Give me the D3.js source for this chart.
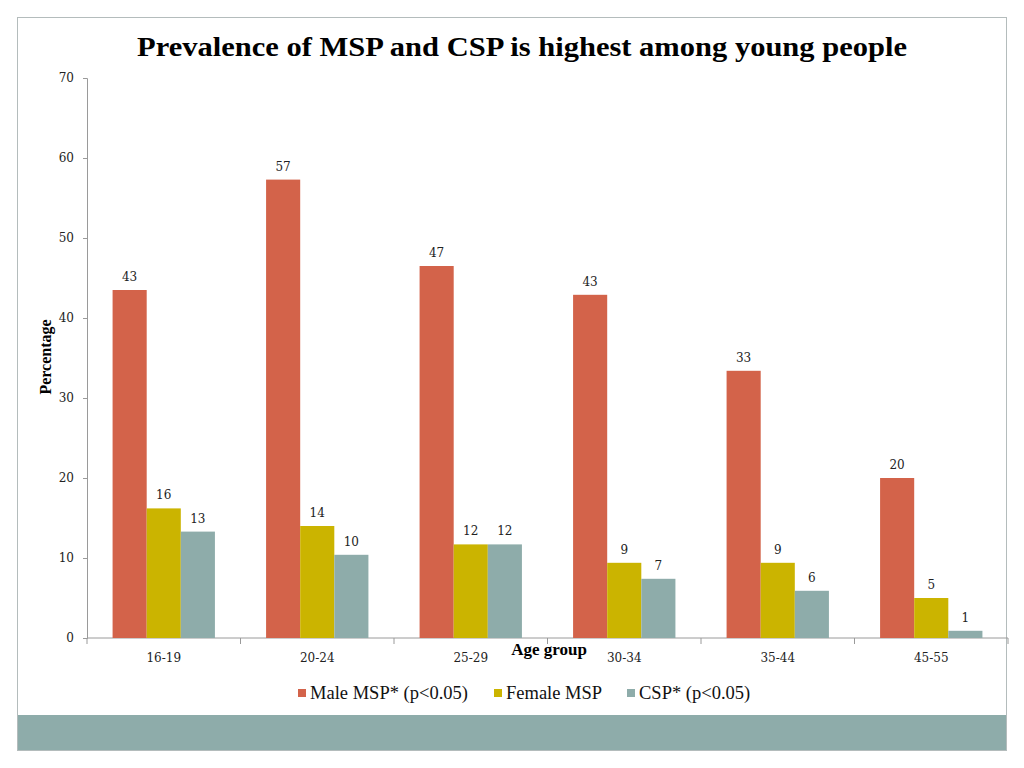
<!DOCTYPE html>
<html>
<head>
<meta charset="utf-8">
<title>Prevalence of MSP and CSP</title>
<script src="https://d3js.org/d3.v7.min.js"></script>
<style>
  body { margin: 0; background: #fff; }
  text { font-family: "DejaVu Serif", serif; }
</style>
</head>
<body>
<svg width="1024" height="768"></svg>
<script>
// data
const ageGroups = ["16-19", "20-24", "25-29", "30-34", "35-44", "45-55"]
const seriesNames = ["Male MSP* (p<0.05)", "Female MSP", "CSP* (p<0.05)"]
const maleMSP = [43.5, 57.3, 46.5, 42.9, 33.4, 20.0]
const femaleMSP = [16.2, 14.0, 11.7, 9.4, 9.4, 5.0]
const csp = [13.3, 10.4, 11.7, 7.4, 5.9, 0.9]
const maleLabels = [43, 57, 47, 43, 33, 20]
const femaleLabels = [16, 14, 12, 9, 9, 5]
const cspLabels = [13, 10, 12, 7, 6, 1]
const yTicks = [0, 10, 20, 30, 40, 50, 60, 70]

const colors = ["#d3634a", "#cbb400", "#8eacaa"]
const svg = d3.select("svg")

// slide frame + bottom band
svg.append("rect").attr("x", 17.5).attr("y", 17.5).attr("width", 989).attr("height", 733)
    .attr("fill", "#fff").attr("stroke", "#b4bcbc")
svg.append("rect").attr("x", 18).attr("y", 715).attr("width", 988).attr("height", 35)
    .attr("fill", "#8eacaa")

svg.append("text")
    .attr("x", 522).attr("y", 56)
    .attr("text-anchor", "middle")
    .style("font-family", "'Liberation Serif', serif")
    .style("font-weight", "bold")
    .style("font-size", "27px")
    .attr("textLength", 770).attr("lengthAdjust", "spacingAndGlyphs")
    .text("Prevalence of MSP and CSP is highest among young people")

const margin = { left: 87, top: 78 }
const innerWidth = 921
const innerHeight = 560

const g = svg.append("g").attr("transform", `translate(${margin.left},${margin.top})`)

const x = d3.scaleBand().domain(ageGroups).range([0, innerWidth]).paddingInner(0).paddingOuter(0)
const xSub = d3.scaleBand().domain(d3.range(3)).range([0, x.bandwidth()]).paddingOuter(0.75).paddingInner(0)
const y = d3.scaleLinear().domain([0, 70]).range([innerHeight, 0])

const yAxis = d3.axisLeft(y).tickValues(yTicks).tickSize(4).tickPadding(9)
const yg = g.append("g").call(yAxis)
yg.select(".domain").attr("stroke", "#9a9a9a")
yg.selectAll(".tick line").attr("stroke", "#9a9a9a")
yg.selectAll("text").style("font-size", "12px").attr("fill", "#222")
    .style("font-family", "'DejaVu Serif', serif")

// x axis with ticks at band edges
const xg = g.append("g").attr("transform", `translate(0,${innerHeight})`)
xg.append("line").attr("x1", 0).attr("x2", innerWidth).attr("stroke", "#9a9a9a")
xg.selectAll("line.tk").data(d3.range(ageGroups.length + 1)).enter().append("line")
    .attr("class", "tk")
    .attr("x1", i => i * x.step()).attr("x2", i => i * x.step())
    .attr("y1", 0).attr("y2", 6).attr("stroke", "#9a9a9a")
xg.selectAll("text").data(ageGroups).enter().append("text")
    .attr("x", d => x(d) + x.bandwidth() / 2)
    .attr("y", 24)
    .attr("text-anchor", "middle")
    .style("font-size", "12px").attr("fill", "#222")
    .text(d => d)

const series = [maleMSP, femaleMSP, csp]
const labels = [maleLabels, femaleLabels, cspLabels]

series.forEach((vals, s) => {
    g.selectAll(".bar" + s).data(vals).enter().append("rect")
        .attr("x", (d, i) => x(ageGroups[i]) + xSub(s))
        .attr("y", d => y(d))
        .attr("width", xSub.bandwidth())
        .attr("height", d => innerHeight - y(d))
        .attr("fill", colors[s])
    g.selectAll(".lab" + s).data(vals).enter().append("text")
        .attr("x", (d, i) => x(ageGroups[i]) + xSub(s) + xSub.bandwidth() / 2)
        .attr("y", d => y(d) - 9)
        .attr("text-anchor", "middle")
        .style("font-size", "12px").attr("fill", "#222")
        .text((d, i) => labels[s][i])
})

// axis titles
svg.append("text")
    .attr("transform", "translate(51,357) rotate(-90)")
    .attr("text-anchor", "middle")
    .style("font-family", "'Liberation Serif', serif")
    .style("font-weight", "bold").style("font-size", "16px")
    .text("Percentage")
svg.append("text")
    .attr("x", 549).attr("y", 655)
    .attr("text-anchor", "middle")
    .style("font-family", "'Liberation Serif', serif")
    .style("font-weight", "bold").style("font-size", "17px")
    .text("Age group")

// legend
const legendX = [298, 494, 627]
const lg = svg.append("g")
seriesNames.forEach((name, i) => {
    lg.append("rect").attr("x", legendX[i]).attr("y", 689).attr("width", 8).attr("height", 8)
        .attr("fill", colors[i])
    lg.append("text").attr("x", legendX[i] + 12).attr("y", 699)
        .style("font-family", "'Liberation Serif', serif").style("font-size", "18.5px")
        .attr("fill", "#111")
        .text(name)
})
</script>
</body>
</html>
